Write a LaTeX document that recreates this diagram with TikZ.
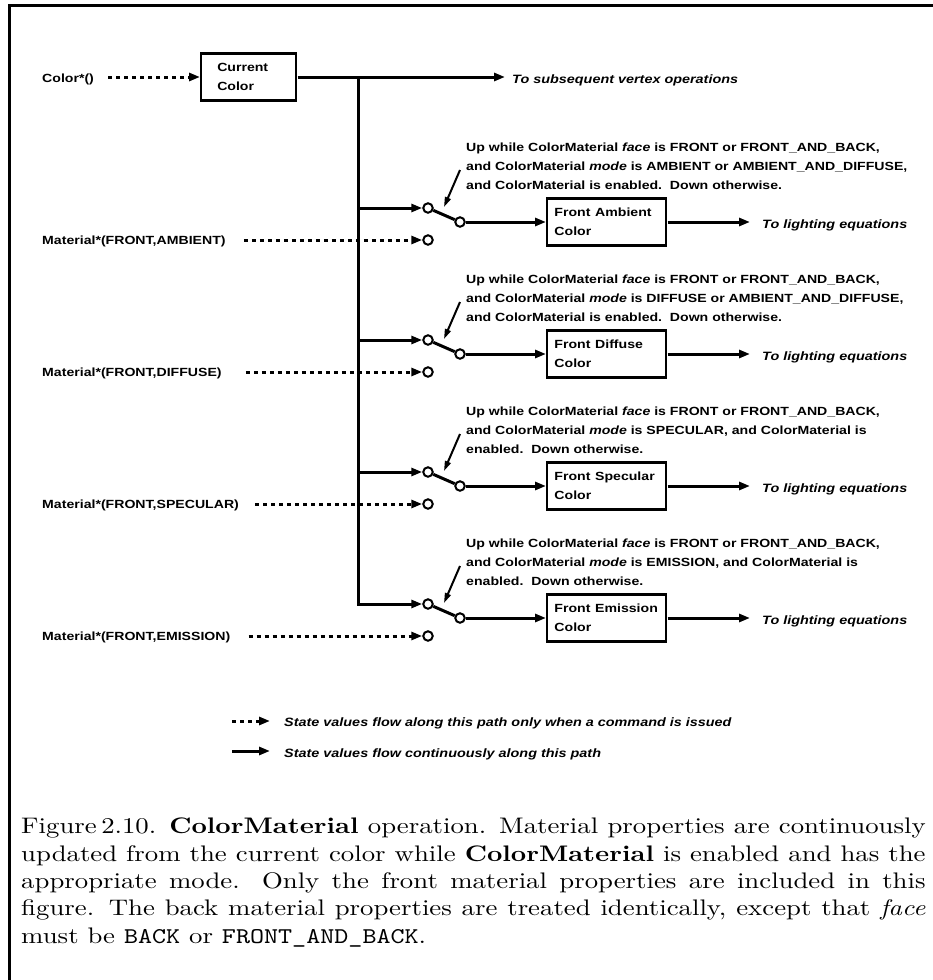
\documentclass[tikz,border=0pt]{standalone}
\usepackage{fontspec}
\setmainfont{lmroman10-regular.otf}[BoldFont=lmroman10-bold.otf, ItalicFont=lmroman10-italic.otf, BoldItalicFont=lmroman10-bolditalic.otf]
\setmonofont{lmmono10-regular.otf}
\newfontfamily\hvfont{Liberation Sans}
\usetikzlibrary{arrows.meta}

\begin{document}
\begin{tikzpicture}[x=1pt,y=-1pt,
    wide/.style={xscale=1.19, transform shape},
    lbl/.style={wide, font=\DIAGFONT, inner sep=0pt, align=left},
    note/.style={lbl, anchor=north west},
    outlbl/.style={wide, font=\OUTFONT, inner sep=0pt, anchor=west},
    colbox/.style={lbl, draw, line width=2.2pt, anchor=west, minimum height=47pt, inner xsep=6pt, text width=88pt},
    contact/.style={circle, draw, line width=2pt, fill=white, minimum size=9.5pt, inner sep=0pt},
    wire/.style={line width=3pt},
    flow/.style={wire, -{Triangle[length=11pt,width=8pt]}},
    cmd/.style={flow, dash pattern=on 4pt off 4pt},
    pointer/.style={line width=2pt, -{Triangle[length=10pt,width=6pt]}},
    captext/.style={wide, anchor=north west, inner sep=0pt, text width=760pt, align=justify, font=\fontsize{22.5}{27.3}\selectfont},
]

\def\DIAGFONT{\hvfont\bfseries\fontsize{11.85}{19}\selectfont}
\def\OUTFONT{\hvfont\bfseries\itshape\fontsize{12.1}{19}\selectfont}
	\useasboundingbox (0,0) rectangle (933,980);
	\draw[line width=3pt] (933,5) -- (9,5) -- (9,980);

	% current color
	\node[lbl, anchor=west] (colorin) at (42,79) {Color*()};
	\node[colbox, inner xsep=13.4pt, text width=53pt] (curcol) at (200,77) {Current\\Color};
	\draw[cmd, shorten <=14pt] (colorin.east |- curcol) -- (curcol.west);
	\coordinate (subs) at (505,77);
	\draw[flow] (curcol.east) -- (subs);
	\node[outlbl] (subslbl) at (512,80) {To subsequent vertex operations};
	\coordinate (tap) at (358,77);

	% ambient
	\node[contact] (upamb) at (428,208) {};
	\node[contact] (outamb) at (460,222) {};
	\node[contact] (dnamb) at (428,240) {};
	\draw[flow] (tap |- upamb) -- (upamb);
	\draw[wire] (upamb) -- (outamb);
	\node[colbox] (amb) at (546,222) {Front Ambient\\Color};
	\draw[flow] (outamb) -- (amb);
	\coordinate (ambend) at (750,222);
	\draw[flow] (amb) -- (ambend);
	\node[outlbl] (amblbl) at (762,225) {To lighting equations};
	\node[lbl, anchor=west] (matamb) at (42,241) {Material*(FRONT,AMBIENT)};
	\draw[cmd, shorten <=18pt] (matamb.east |- dnamb) -- (dnamb);
	\node[note] (noteamb) at (466,143) {Up while ColorMaterial \textit{face} is FRONT or FRONT\_AND\_BACK,\\and ColorMaterial \textit{mode} is AMBIENT or AMBIENT\_AND\_DIFFUSE,\\and ColorMaterial is enabled.\ \ Down otherwise.};
	\coordinate (ptamb) at (460,170);
	\coordinate (swamb) at (444,207);
	\draw[pointer] (ptamb) -- (swamb);

	% diffuse
	\node[contact] (updif) at (428,340) {};
	\node[contact] (outdif) at (460,354) {};
	\node[contact] (dndif) at (428,372) {};
	\draw[flow] (tap |- updif) -- (updif);
	\draw[wire] (updif) -- (outdif);
	\node[colbox] (dif) at (546,354) {Front Diffuse\\Color};
	\draw[flow] (outdif) -- (dif);
	\coordinate (difend) at (750,354);
	\draw[flow] (dif) -- (difend);
	\node[outlbl] (diflbl) at (762,357) {To lighting equations};
	\node[lbl, anchor=west] (matdif) at (42,373) {Material*(FRONT,DIFFUSE)};
	\draw[cmd, shorten <=24pt] (matdif.east |- dndif) -- (dndif);
	\node[note] (notedif) at (466,275) {Up while ColorMaterial \textit{face} is FRONT or FRONT\_AND\_BACK,\\and ColorMaterial \textit{mode} is DIFFUSE or AMBIENT\_AND\_DIFFUSE,\\and ColorMaterial is enabled.\ \ Down otherwise.};
	\coordinate (ptdif) at (460,302);
	\coordinate (swdif) at (444,339);
	\draw[pointer] (ptdif) -- (swdif);

	% specular
	\node[contact] (upspe) at (428,472) {};
	\node[contact] (outspe) at (460,486) {};
	\node[contact] (dnspe) at (428,504) {};
	\draw[flow] (tap |- upspe) -- (upspe);
	\draw[wire] (upspe) -- (outspe);
	\node[colbox] (spe) at (546,486) {Front Specular\\Color};
	\draw[flow] (outspe) -- (spe);
	\coordinate (speend) at (750,486);
	\draw[flow] (spe) -- (speend);
	\node[outlbl] (spelbl) at (762,489) {To lighting equations};
	\node[lbl, anchor=west] (matspe) at (42,505) {Material*(FRONT,SPECULAR)};
	\draw[cmd, shorten <=16pt] (matspe.east |- dnspe) -- (dnspe);
	\node[note] (notespe) at (466,407) {Up while ColorMaterial \textit{face} is FRONT or FRONT\_AND\_BACK,\\and ColorMaterial \textit{mode} is SPECULAR, and ColorMaterial is\\enabled.\ \ Down otherwise.};
	\coordinate (ptspe) at (460,434);
	\coordinate (swspe) at (444,471);
	\draw[pointer] (ptspe) -- (swspe);

	% emission
	\node[contact] (upemi) at (428,604) {};
	\node[contact] (outemi) at (460,618) {};
	\node[contact] (dnemi) at (428,636) {};
	\draw[flow] (tap) |- (upemi);
	\draw[wire] (upemi) -- (outemi);
	\node[colbox] (emi) at (546,618) {Front Emission\\Color};
	\draw[flow] (outemi) -- (emi);
	\coordinate (emiend) at (750,618);
	\draw[flow] (emi) -- (emiend);
	\node[outlbl] (emilbl) at (762,621) {To lighting equations};
	\node[lbl, anchor=west] (matemi) at (42,637) {Material*(FRONT,EMISSION)};
	\draw[cmd, shorten <=18pt] (matemi.east |- dnemi) -- (dnemi);
	\node[note] (noteemi) at (466,539) {Up while ColorMaterial \textit{face} is FRONT or FRONT\_AND\_BACK,\\and ColorMaterial \textit{mode} is EMISSION, and ColorMaterial is\\enabled.\ \ Down otherwise.};
	\coordinate (ptemi) at (460,566);
	\coordinate (swemi) at (444,603);
	\draw[pointer] (ptemi) -- (swemi);

	% legend
	\coordinate (cmdA) at (232,721);
	\coordinate (cmdB) at (270,721);
	\draw[cmd] (cmdA) -- (cmdB);
	\node[outlbl] (cmdlbl) at (284,723) {State values flow along this path only when a command is issued};
	\coordinate (flowA) at (232,751);
	\coordinate (flowB) at (270,751);
	\draw[flow] (flowA) -- (flowB);
	\node[outlbl] (flowlbl) at (284,754) {State values flow continuously along this path};

	% caption
	\node[captext] (caption) at (21,818) {Figure\,2.10. \textbf{ColorMaterial} operation. Material properties are continuously\linebreak
	updated from the current color while \textbf{ColorMaterial} is enabled and has the\linebreak
	appropriate mode. Only the front material properties are included in this\linebreak
	figure. The back material properties are treated identically, except that \emph{face}\linebreak
	must be \texttt{BACK} or \texttt{FRONT\_AND\_BACK}.};

          \end{tikzpicture}
\end{document}
